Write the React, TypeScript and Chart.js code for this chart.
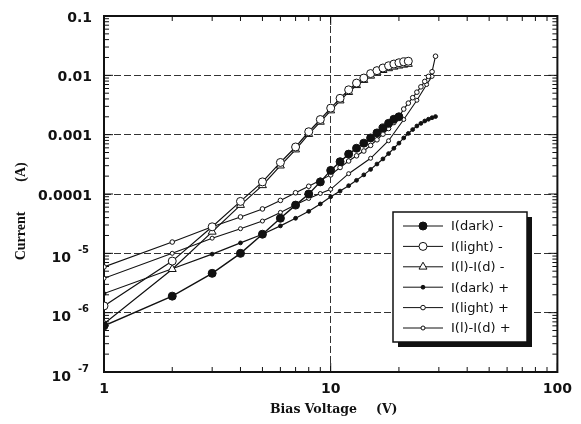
import React, { useEffect, useRef } from 'react';
import { Chart, registerables } from 'chart.js';

Chart.register(...registerables);

// ---- data ----
const seriesLabels = ['I(dark) -', 'I(light) -', 'I(l)-I(d) -', 'I(dark) +', 'I(light) +', 'I(l)-I(d) +'];

const voltsMinus = [1, 2, 3, 4, 5, 6, 7, 8, 9, 10, 11, 12, 13, 14, 15, 16, 17, 18, 19, 20, 21, 22];
const darkMinus = [6e-7, 1.9e-6, 4.6e-6, 1.0e-5, 2.1e-5, 3.9e-5, 6.5e-5, 1.0e-4, 1.6e-4, 2.5e-4, 3.5e-4, 4.7e-4, 5.9e-4, 7.2e-4, 8.8e-4, 1.07e-3, 1.3e-3, 1.55e-3, 1.82e-3, 2.0e-3];
const lightMinus = [1.3e-6, 7.4e-6, 2.8e-5, 7.5e-5, 1.6e-4, 3.4e-4, 6.2e-4, 1.12e-3, 1.8e-3, 2.8e-3, 4.1e-3, 5.7e-3, 7.4e-3, 9.0e-3, 1.07e-2, 1.2e-2, 1.33e-2, 1.45e-2, 1.55e-2, 1.63e-2, 1.69e-2, 1.73e-2];
const diffMinus = [6.5e-7, 5.4e-6, 2.3e-5, 6.5e-5, 1.4e-4, 3.0e-4, 5.6e-4, 1.02e-3, 1.64e-3, 2.55e-3, 3.75e-3, 5.2e-3, 6.8e-3, 8.3e-3, 9.8e-3, 1.12e-2, 1.22e-2, 1.31e-2, 1.39e-2, 1.45e-2, 1.5e-2, 1.55e-2];

const voltsPlus = [1, 2, 3, 4, 5, 6, 7, 8, 9, 10, 11, 12, 13, 14, 15, 16, 17, 18, 19, 20, 21, 22, 23, 24, 25, 26, 27, 28, 29];
const darkPlus = [2.1e-6, 5.5e-6, 9.7e-6, 1.5e-5, 2.1e-5, 2.9e-5, 3.9e-5, 5.1e-5, 6.8e-5, 9.0e-5, 1.12e-4, 1.38e-4, 1.7e-4, 2.1e-4, 2.6e-4, 3.2e-4, 3.9e-4, 4.8e-4, 5.9e-4, 7.2e-4, 8.8e-4, 1.05e-3, 1.22e-3, 1.4e-3, 1.55e-3, 1.7e-3, 1.82e-3, 1.93e-3, 2.02e-3];
const lightPlus = [5.9e-6, 1.55e-5, 2.8e-5, 4.1e-5, 5.6e-5, 7.8e-5, 1.05e-4, 1.35e-4, 1.7e-4, 2.1e-4, 2.8e-4, 3.6e-4, 4.4e-4, 5.3e-4, 6.6e-4, 8.2e-4, 1.02e-3, 1.27e-3, 1.6e-3, 2.0e-3, 2.7e-3, 3.4e-3, 4.2e-3, 5.2e-3, 6.4e-3, 7.9e-3, 9.6e-3, 1.15e-2, 2.1e-2];

const voltsDiffPlus = [1, 2, 3, 4, 5, 6, 7, 8, 9, 10, 12, 15, 18, 21, 24, 26.5, 28];
const diffPlus = [3.8e-6, 1.0e-5, 1.8e-5, 2.6e-5, 3.5e-5, 4.9e-5, 6.6e-5, 8.4e-5, 1.02e-4, 1.2e-4, 2.2e-4, 4.0e-4, 7.9e-4, 1.8e-3, 3.8e-3, 7.0e-3, 9.6e-3];

const xTickValues = [1, 10, 100];
const xTickLabels = ['1', '10', '100'];
const yTickValues = [0.1, 0.01, 0.001, 0.0001, 1e-5, 1e-6, 1e-7];
const yTickLabels = ['0.1', '0.01', '0.001', '0.0001', '10^-5', '10^-6', '10^-7'];

const xTitle = ['Bias Voltage', '(V)'];
const yTitle = ['Current', '(A)'];

// ---- styles ----
const INK = '#111';
type Sty = { pointStyle: string; radius: number; fill: string; lw: number };
const styles: Sty[] = [
  { pointStyle: 'circle', radius: 4, fill: INK, lw: 1.4 },
  { pointStyle: 'circle', radius: 4, fill: '#fff', lw: 1.2 },
  { pointStyle: 'triangle', radius: 4.6, fill: '#fff', lw: 1.2 },
  { pointStyle: 'circle', radius: 1.9, fill: INK, lw: 1.2 },
  { pointStyle: 'circle', radius: 2.3, fill: '#fff', lw: 1.1 },
  { pointStyle: 'circle', radius: 2, fill: '#fff', lw: 1.1 },
];

function pts(xs: number[], ys: number[]) {
  return ys.map((y, i) => ({ x: xs[i], y }));
}

function drawMarker(ctx: CanvasRenderingContext2D, s: Sty, x: number, y: number) {
  ctx.save();
  ctx.fillStyle = s.fill;
  ctx.strokeStyle = INK;
  ctx.lineWidth = 1;
  ctx.beginPath();
  if (s.pointStyle === 'triangle') {
    const r = s.radius;
    ctx.moveTo(x, y - r);
    ctx.lineTo(x + r * 0.866, y + r * 0.5);
    ctx.lineTo(x - r * 0.866, y + r * 0.5);
    ctx.closePath();
  } else {
    ctx.arc(x, y, s.radius, 0, Math.PI * 2);
  }
  ctx.fill();
  ctx.stroke();
  ctx.restore();
}

const framePlugin = {
  id: 'frame',
  beforeDatasetsDraw(chart: any) {
    const { ctx, chartArea, scales } = chart;
    const { left, right, top, bottom } = chartArea;
    const xs = scales.x;
    const ys = scales.y;
    ctx.save();
    ctx.strokeStyle = INK;
    ctx.lineWidth = 1;
    const line = (a: number, b: number, c: number, d: number) => {
      ctx.beginPath();
      ctx.moveTo(a, b);
      ctx.lineTo(c, d);
      ctx.stroke();
    };
    for (let e = -7; e <= -1; e++) {
      for (let m = 1; m <= 9; m++) {
        const v = m * Math.pow(10, e);
        if (v > 0.1 + 1e-12) continue;
        const py = ys.getPixelForValue(v);
        const len = m === 1 ? 9 : 5;
        line(left, py, left + len, py);
        line(right - len, py, right, py);
      }
    }
    for (let e = 0; e <= 2; e++) {
      for (let m = 1; m <= 9; m++) {
        const v = m * Math.pow(10, e);
        if (v > 100) continue;
        const px = xs.getPixelForValue(v);
        const len = m === 1 ? 9 : 5;
        line(px, bottom, px, bottom - len);
        line(px, top, px, top + len);
      }
    }
    ctx.lineWidth = 2;
    ctx.strokeRect(left, top, right - left, bottom - top);
    ctx.restore();
  },
};

const labelsPlugin = {
  id: 'labels',
  afterDraw(chart: any) {
    const { ctx, scales } = chart;
    const ys = scales.y;
    ctx.save();
    ctx.fillStyle = INK;
    ctx.textBaseline = 'middle';
    yTickValues.forEach((v, i) => {
      const py = ys.getPixelForValue(v);
      const lab = yTickLabels[i];
      if (lab.includes('^')) {
        const [base, exp] = lab.split('^');
        ctx.font = 'bold 10px "DejaVu Sans"';
        ctx.textAlign = 'right';
        ctx.fillText(exp, 89, py - 3);
        const ew = ctx.measureText(exp).width;
        ctx.font = 'bold 14px "DejaVu Sans"';
        ctx.fillText(base, 89 - ew - 7, py + 5);
      } else {
        ctx.font = 'bold 14px "DejaVu Sans"';
        ctx.textAlign = 'right';
        ctx.fillText(lab, 92, py + 2);
      }
    });
    ctx.save();
    ctx.translate(21, 0);
    ctx.rotate(-Math.PI / 2);
    ctx.font = 'bold 14px "Liberation Serif"';
    ctx.textAlign = 'center';
    ctx.fillText(yTitle[0], -236, 0);
    ctx.fillText(yTitle[1], -172, 0);
    ctx.restore();
    ctx.font = 'bold 12.5px "DejaVu Serif"';
    ctx.textAlign = 'left';
    ctx.fillText(xTitle[0], 270, 410);
    ctx.fillText(xTitle[1], 376, 410);
    ctx.restore();

    // legend
    const bx = 393, by = 212, bw = 134, bh = 130;
    ctx.save();
    ctx.fillStyle = INK;
    ctx.fillRect(bx + 5, by + 5, bw, bh);
    ctx.fillStyle = '#fff';
    ctx.fillRect(bx, by, bw, bh);
    ctx.strokeStyle = INK;
    ctx.lineWidth = 1.5;
    ctx.strokeRect(bx, by, bw, bh);
    ctx.font = '13px "DejaVu Sans"';
    ctx.textBaseline = 'middle';
    ctx.textAlign = 'left';
    seriesLabels.forEach((lab, i) => {
      const ry = 226 + i * 20.4;
      ctx.strokeStyle = INK;
      ctx.lineWidth = 1;
      ctx.beginPath();
      ctx.moveTo(403, ry);
      ctx.lineTo(443, ry);
      ctx.stroke();
      drawMarker(ctx, styles[i], 423, ry);
      ctx.fillStyle = INK;
      ctx.fillText(lab, 451, ry + 1);
    });
    ctx.restore();
  },
};

export default function App() {
  const ref = useRef<HTMLCanvasElement>(null);
  useEffect(() => {
    const canvas = ref.current;
    if (!canvas) return;
    const dataSets = [
      pts(voltsMinus, darkMinus),
      pts(voltsMinus, lightMinus),
      pts(voltsMinus, diffMinus),
      pts(voltsPlus, darkPlus),
      pts(voltsPlus, lightPlus),
      pts(voltsDiffPlus, diffPlus),
    ];
    const chart = new Chart(canvas, {
      type: 'line',
      data: {
        datasets: seriesLabels.map((label, i) => ({
          label,
          data: dataSets[i],
          borderColor: INK,
          borderWidth: styles[i].lw,
          backgroundColor: styles[i].fill,
          pointStyle: styles[i].pointStyle as any,
          pointRadius: styles[i].radius,
          pointBackgroundColor: styles[i].fill,
          pointBorderColor: INK,
          pointBorderWidth: 1,
          tension: 0,
          fill: false,
        })),
      },
      options: {
        animation: false,
        responsive: false,
        devicePixelRatio: 1,
        layout: { padding: { top: 16, right: 18, left: 0, bottom: 0 } },
        plugins: { legend: { display: false }, tooltip: { enabled: false } },
        scales: {
          x: {
            type: 'logarithmic',
            min: 1,
            max: 100,
            afterBuildTicks: (s: any) => {
              s.ticks = xTickValues.map((v) => ({ value: v }));
            },
            afterFit: (s: any) => {
              s.height = 52;
            },
            ticks: {
              autoSkip: false,
              maxRotation: 0,
              padding: 9,
              color: INK,
              font: { family: '"DejaVu Sans"', size: 14, weight: 'bold' },
              callback: (v: any) => {
                const idx = xTickValues.findIndex((t) => Math.abs(t - Number(v)) < 1e-9);
                return idx >= 0 ? xTickLabels[idx] : '';
              },
            },
            grid: { color: '#333', lineWidth: 1, drawTicks: false },
            border: { display: false, dash: [7, 3] },
          },
          y: {
            type: 'logarithmic',
            min: 1e-7,
            max: 0.1,
            afterBuildTicks: (s: any) => {
              s.ticks = yTickValues.map((v) => ({ value: v }));
            },
            afterFit: (s: any) => {
              s.width = 104;
            },
            ticks: { display: false },
            grid: { color: '#333', lineWidth: 1, drawTicks: false },
            border: { display: false, dash: [7, 3] },
          },
        },
      } as any,
      plugins: [framePlugin, labelsPlugin],
    });
    return () => chart.destroy();
  }, []);
  return (
    <div style={{ position: 'fixed', left: 0, top: 0, width: 581, height: 424, background: '#fff' }}>
      <canvas ref={ref} width={581} height={424} style={{ display: 'block', width: 581, height: 424 }} />
    </div>
  );
}
